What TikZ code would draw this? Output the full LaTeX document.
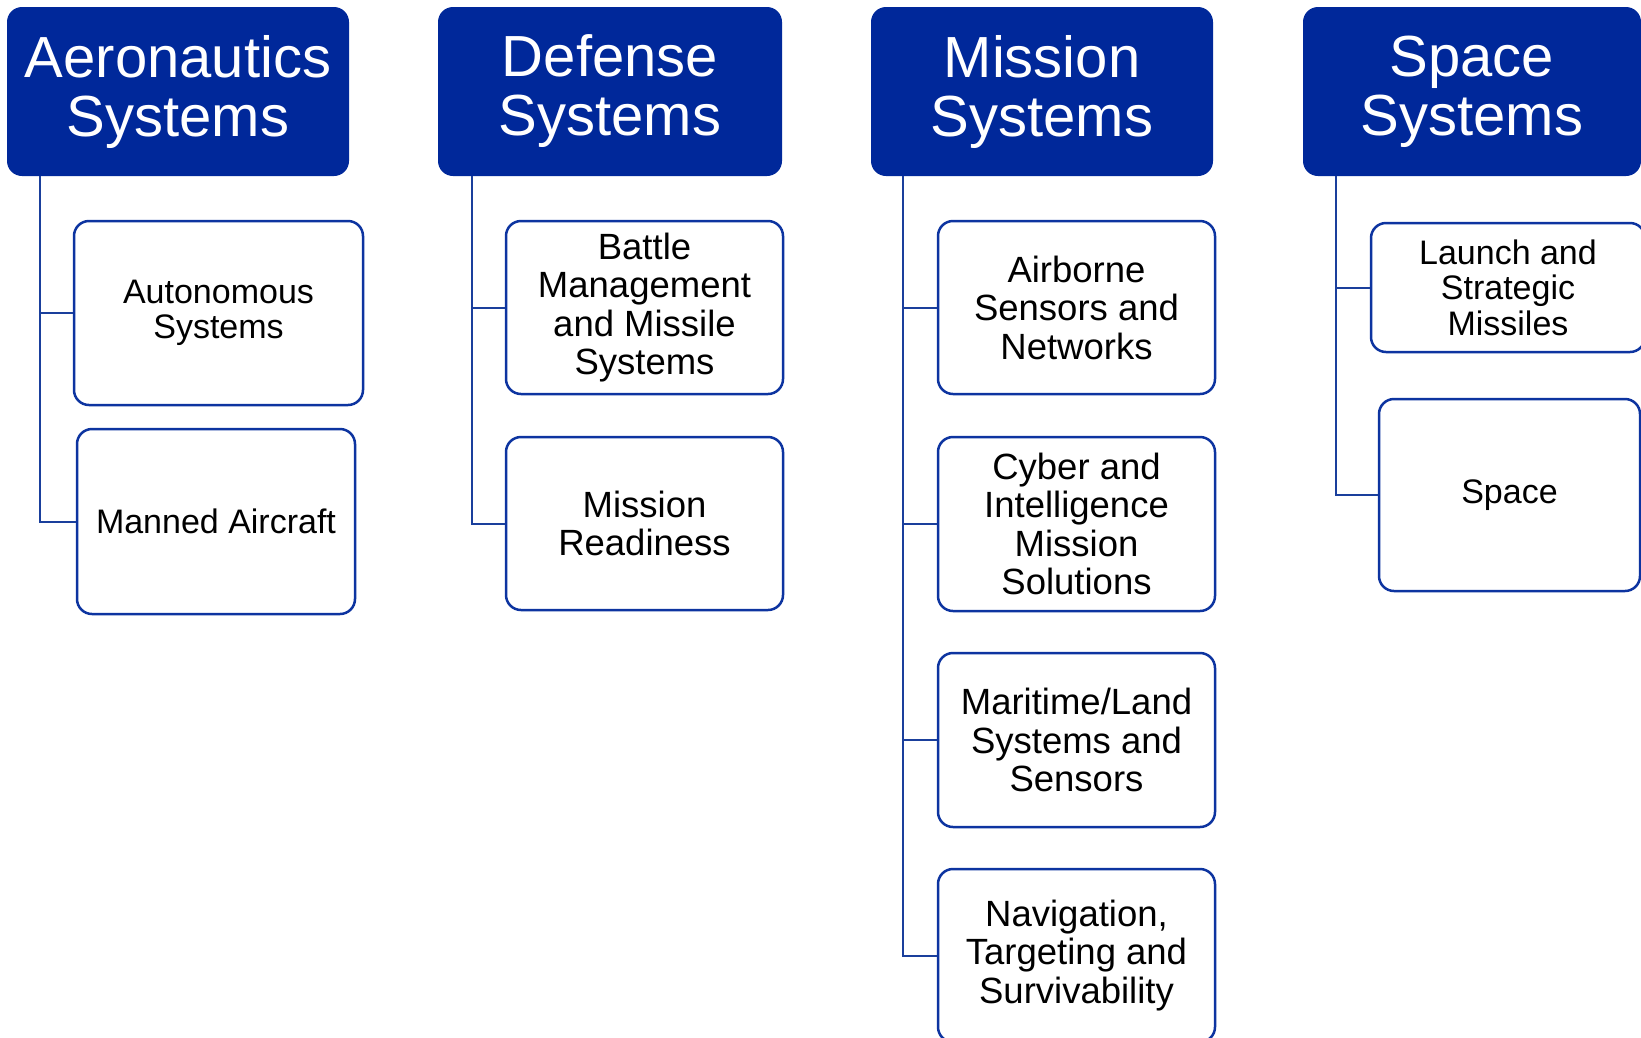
\documentclass[tikz,border=0pt]{standalone}
\usepackage{fontspec}
\setmainfont{Liberation Sans}
\begin{document}
\begin{tikzpicture}[x=1pt,y=-1pt,
  headbox/.style={rounded corners=15pt, fill=headblue, draw=none,
    text=white, align=center, inner sep=0pt,
    font=\fontsize{58pt}{59pt}\selectfont},
  subbox/.style={rounded corners=15pt, draw=boxblue, line width=2.5pt,
    fill=white, text=black, align=center, inner sep=0pt},
  smalltext/.style={font=\fontsize{34pt}{35.5pt}\selectfont},
  largetext/.style={font=\fontsize{36.5pt}{38.5pt}\selectfont},
  link/.style={draw=linkblue, line width=2pt}]
\definecolor{headblue}{HTML}{00289A}
\definecolor{boxblue}{HTML}{0D34A0}
\definecolor{linkblue}{HTML}{1A3F9C}

\useasboundingbox (0,0) rectangle (1641,1037);
\clip (0,0) rectangle (1641,1037);
\fill[white] (0,0) rectangle (1641,1037);

% group headers
\node[headbox, minimum width=342pt, minimum height=169pt] (aero) at (178,91.5) {Aeronautics\\Systems};
\node[headbox, minimum width=344pt, minimum height=169pt] (def) at (610,91.5) {Defense\\Systems};
\node[headbox, minimum width=342pt, minimum height=169pt] (mis) at (1042,91.5) {Mission\\Systems};
\node[headbox, minimum width=338pt, minimum height=169pt] (spc) at (1472,91.5) {Space\\Systems};

% Aeronautics sectors
\node[subbox, smalltext, minimum width=289pt, minimum height=184pt] (auto) at (218.5,313) {Autonomous\\Systems};
\node[subbox, smalltext, minimum width=278pt, minimum height=185pt] (manned) at (216,521.5) {Manned Aircraft};

% Defense sectors
\node[subbox, largetext, minimum width=277pt, minimum height=173pt] (battle) at (644.5,307.5) {Battle\\Management\\and Missile\\Systems};
\node[subbox, largetext, minimum width=277pt, minimum height=173pt] (ready) at (644.5,523.5) {Mission\\Readiness};

% Mission sectors
\node[subbox, largetext, minimum width=277pt, minimum height=173pt] (airb) at (1076.5,307.5) {Airborne\\Sensors and\\Networks};
\node[subbox, largetext, minimum width=277pt, minimum height=174pt] (cyber) at (1076.5,524) {Cyber and\\Intelligence\\Mission\\Solutions};
\node[subbox, largetext, minimum width=277pt, minimum height=174pt] (mari) at (1076.5,740) {Maritime/Land\\Systems and\\Sensors};
\node[subbox, largetext, minimum width=277pt, minimum height=173pt] (nav) at (1076.5,955.5) {Navigation,\\Targeting and\\Survivability};

% Space sectors
\node[subbox, smalltext, minimum width=274pt, minimum height=129pt] (launch) at (1508,287.5) {Launch and\\Strategic\\Missiles};
\node[subbox, smalltext, minimum width=261pt, minimum height=192pt] (space) at (1509.5,495) {Space};

% tree connectors
\draw[link] ([xshift=33pt]aero.south west) |- (auto.west);
\draw[link] ([xshift=33pt]aero.south west) |- (manned.west);
\draw[link] ([xshift=34pt]def.south west) |- (battle.west);
\draw[link] ([xshift=34pt]def.south west) |- (ready.west);
\draw[link] ([xshift=32.5pt]mis.south west) |- (airb.west);
\draw[link] ([xshift=32.5pt]mis.south west) |- (cyber.west);
\draw[link] ([xshift=32.5pt]mis.south west) |- (mari.west);
\draw[link] ([xshift=32.5pt]mis.south west) |- (nav.west);
\draw[link] ([xshift=33pt]spc.south west) |- (launch.west);
\draw[link] ([xshift=33pt]spc.south west) |- (space.west);
\end{tikzpicture}
\end{document}
